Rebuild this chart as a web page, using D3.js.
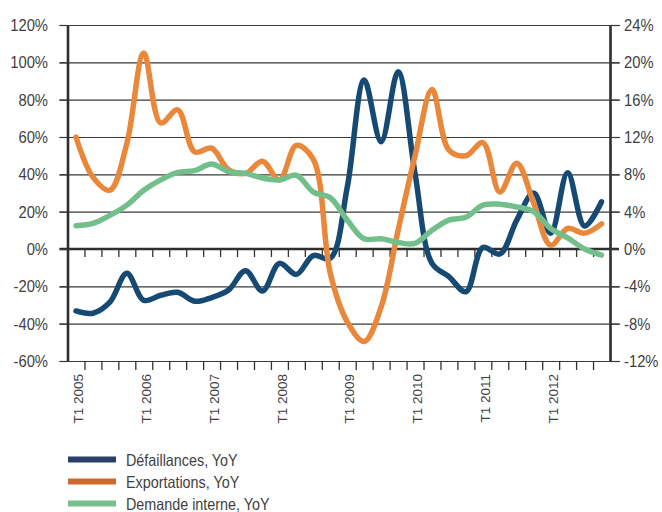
<!DOCTYPE html>
<html>
<head>
<meta charset="utf-8">
<script src="https://cdn.jsdelivr.net/npm/d3@7"></script>
<style>
  body { margin: 0; background: #fff; }
  svg { display: block; }
  text { font-family: "Liberation Sans", Arial, sans-serif; fill: #3f3f3f; }
</style>
</head>
<body>
<svg id="chart" width="662" height="512"></svg>
<script>
// quarters T1 2005 .. T4 2012
var quarters = [
  "T1 2005", "T2 2005", "T3 2005", "T4 2005",
  "T1 2006", "T2 2006", "T3 2006", "T4 2006",
  "T1 2007", "T2 2007", "T3 2007", "T4 2007",
  "T1 2008", "T2 2008", "T3 2008", "T4 2008",
  "T1 2009", "T2 2009", "T3 2009", "T4 2009",
  "T1 2010", "T2 2010", "T3 2010", "T4 2010",
  "T1 2011", "T2 2011", "T3 2011", "T4 2011",
  "T1 2012", "T2 2012", "T3 2012", "T4 2012"
];
var yearLabels = ["T1 2005", "T1 2006", "T1 2007", "T1 2008", "T1 2009", "T1 2010", "T1 2011", "T1 2012"];

// left axis (%)
var defaillances = [
  -33.2, -34.4, -28.5, -13.0, -27.5, -24.8, -23.2, -28.0,
  -26.0, -22.0, -11.6, -22.5, -7.7, -13.6, -3.5, -5.0,
  33.0, 90.5, 57.5, 95.0, 40.5, -7.7, -14.8, -22.9,
  0.8, -2.7, 15.5, 30.0, 8.4, 40.9, 12.3, 25.3
];
// right axis (%)
var exportations = [
  12.0, 7.7, 6.3, 11.3, 21.0, 13.5, 14.9, 10.4,
  10.8, 8.5, 8.1, 9.4, 7.4, 11.1, 9.6, -2.6,
  -7.8, -9.9, -6.2, 2.0, 10.0, 17.1, 10.6, 10.0,
  11.4, 6.1, 9.2, 4.9, 0.4, 2.2, 1.7, 2.7
];
var demandeInterne = [
  2.5, 2.75, 3.6, 4.7, 6.3, 7.4, 8.2, 8.4,
  9.1, 8.3, 8.1, 7.6, 7.4, 7.9, 6.1, 5.5,
  3.1, 1.1, 1.1, 0.7, 0.6, 2.0, 3.1, 3.4,
  4.7, 4.8, 4.5, 4.0, 2.2, 1.2, 0.0, -0.65
];

var leftTicks = [-60, -40, -20, 0, 20, 40, 60, 80, 100, 120];
var rightTicks = [-12, -8, -4, 0, 4, 8, 12, 16, 20, 24];
var seriesNames = ["Défaillances, YoY", "Exportations, YoY", "Demande interne, YoY"];

var m = {left: 67.5, right: 610, top: 25, bottom: 361};
var squeeze = 0.87;

var svg = d3.select("#chart");

var x = d3.scaleBand().domain(quarters).range([m.left, m.right]);
var xEdge = d3.scaleLinear().domain([0, quarters.length]).range([m.left, m.right]);
var yL = d3.scaleLinear().domain([-60, 120]).range([m.bottom, m.top]);
var yR = d3.scaleLinear().domain([-12, 24]).range([m.bottom, m.top]);

// gridlines
svg.append("g")
    .attr("transform", "translate(" + (m.left - 8) + ",0)")
    .call(d3.axisLeft(yL).tickValues(leftTicks.filter(d => d !== 0))
        .tickSize(-(m.right - m.left + 18)).tickFormat(""))
    .call(g => g.select(".domain").remove())
    .call(g => g.selectAll("line").attr("stroke", "#3a3a3a").attr("stroke-width", 1.2));

// zero line with quarter ticks
svg.append("line")
    .attr("x1", m.left - 8).attr("x2", m.right + 9)
    .attr("y1", yL(0)).attr("y2", yL(0))
    .attr("stroke", "#2e2e2e").attr("stroke-width", 2.6);

svg.append("g")
    .attr("transform", "translate(0," + yL(0) + ")")
    .call(d3.axisBottom(xEdge).tickValues(d3.range(1, quarters.length)).tickSize(8).tickFormat(""))
    .call(g => g.select(".domain").remove())
    .call(g => g.selectAll("line").attr("stroke", "#333").attr("stroke-width", 1.3));

// bottom ticks
svg.append("g")
    .attr("transform", "translate(0," + m.bottom + ")")
    .call(d3.axisBottom(xEdge).tickValues(d3.range(1, quarters.length)).tickSize(9).tickFormat(""))
    .call(g => g.select(".domain").remove())
    .call(g => g.selectAll("line").attr("stroke", "#333").attr("stroke-width", 1.3));

// x labels
svg.append("g")
    .attr("transform", "translate(0," + m.bottom + ")")
    .call(d3.axisBottom(x).tickValues(yearLabels).tickSize(0))
    .call(g => g.select(".domain").remove())
    .call(g => g.selectAll("text")
        .attr("x", 0).attr("y", 0).attr("dy", "0.35em")
        .attr("text-anchor", "end")
        .attr("font-size", "13.5px")
        .attr("transform", "translate(3,13) rotate(-90) scale(1,0.88)"));

// left axis
svg.append("g")
    .attr("transform", "translate(" + m.left + ",0)")
    .call(d3.axisLeft(yL).tickValues(leftTicks).tickSize(8).tickSizeOuter(0)
        .tickFormat(d => d + "%"))
    .call(g => g.select(".domain").attr("stroke", "#2e2e2e").attr("stroke-width", 2.6))
    .call(g => g.selectAll("line").attr("stroke", "#3a3a3a").attr("stroke-width", 1.2))
    .call(g => g.selectAll("text")
        .attr("font-size", "17px")
        .attr("x", -19.5 / squeeze)
        .attr("transform", "scale(" + squeeze + ",1)"));

// right axis
svg.append("g")
    .attr("transform", "translate(" + m.right + ",0)")
    .call(d3.axisRight(yR).tickValues(rightTicks).tickSize(9).tickSizeOuter(0)
        .tickFormat(d => d + "%"))
    .call(g => g.select(".domain").attr("stroke", "#2e2e2e").attr("stroke-width", 2.6))
    .call(g => g.selectAll("line").attr("stroke", "#3a3a3a").attr("stroke-width", 1.2))
    .call(g => g.selectAll("text")
        .attr("font-size", "17px")
        .attr("x", 14 / squeeze)
        .attr("transform", "scale(" + squeeze + ",1)"));

// series
var cx = (d, i) => x(quarters[i]) + x.bandwidth() / 2;
var lineL = d3.line().x(cx).y(d => yL(d)).curve(d3.curveCatmullRom.alpha(0.5));
var lineR = d3.line().x(cx).y(d => yR(d)).curve(d3.curveCatmullRom.alpha(0.5));

var series = [
  {values: defaillances, line: lineL, color: "#174a72", legend: "#2a4068"},
  {values: exportations, line: lineR, color: "#e9873a", legend: "#cb6a2d"},
  {values: demandeInterne, line: lineR, color: "#72bf8b", legend: "#7cbf8f"}
];

svg.append("g").selectAll("path")
    .data(series)
    .enter().append("path")
    .attr("d", s => s.line(s.values))
    .attr("fill", "none")
    .attr("stroke", s => s.color)
    .attr("stroke-width", 5.5)
    .attr("stroke-linecap", "round")
    .attr("stroke-linejoin", "round");

// legend
var legend = svg.append("g").selectAll("g")
    .data(series)
    .enter().append("g")
    .attr("transform", (s, i) => "translate(68," + (459.5 + i * 22) + ")");

legend.append("rect")
    .attr("x", 0).attr("y", -3)
    .attr("width", 48).attr("height", 6)
    .attr("fill", s => s.legend);

legend.append("text")
    .attr("transform", "translate(58,6.5) scale(" + squeeze + ",1)")
    .attr("font-size", "16.5px")
    .text((s, i) => seriesNames[i]);
</script>
</body>
</html>
